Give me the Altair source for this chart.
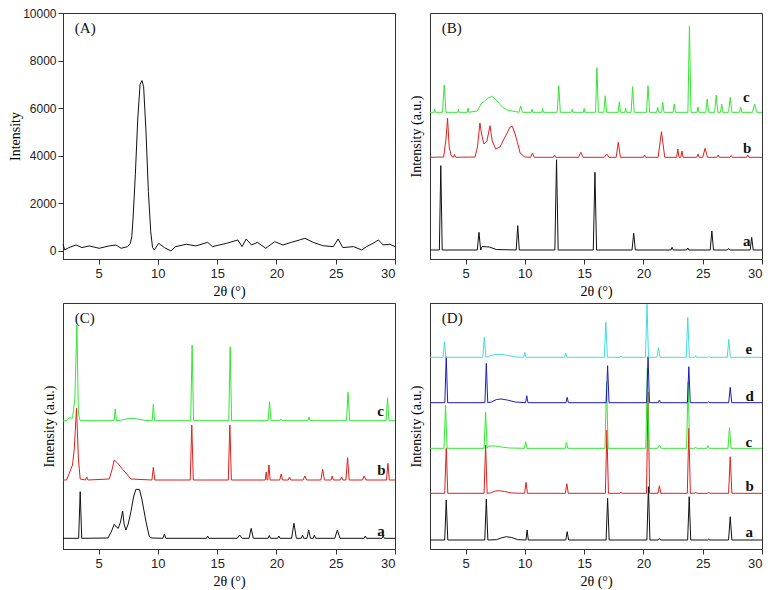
import altair as alt
import pandas as pd

# ---------------- Panel A (raw intensity) ----------------
A_x = [2.0, 2.15, 2.5, 3.1, 3.6, 4.2, 5.05, 5.9, 6.46, 6.9, 7.45, 7.68, 7.8, 7.9, 8.1, 8.3, 8.5, 8.66,
       8.8, 9.0, 9.2, 9.4, 9.55, 9.7, 10.07, 10.55, 11.1, 11.5, 12.4, 13.2, 14.2, 14.6, 15.8, 16.75,
       17.1, 17.45, 17.9, 18.4, 19.1, 19.85, 20.55, 21.25, 21.95, 22.4, 23.1, 23.9, 24.8, 25.2, 25.6,
       26.5, 27.2, 27.6, 28.15, 28.6, 29.0, 29.56, 30.0]
A_y = [280, 40, 140, 250, 140, 210, 110, 210, 250, 110, 180, 320, 600, 1300, 3200, 5500, 7000, 7160,
       6900, 5000, 2500, 800, 150, 40, 320, 140, 0, 180, 280, 210, 360, 180, 320, 460,
       180, 500, 250, 360, 110, 390, 250, 360, 460, 530, 360, 220, 180, 500, 140,
       180, 40, 180, 320, 460, 250, 280, 180]

# ---------------- Panels B-D (a.u.), peaks = (2theta, top, half-width) ----------------
B_a_base = 9
B_a_peaks = [(2.91, 93.3, 0.12), (6.13, 26.7, 0.14), (9.40, 33.3, 0.13), (12.67, 99.3, 0.14),
             (15.91, 86.7, 0.14), (19.18, 25.7, 0.14), (22.42, 11.7, 0.1), (23.74, 11.0, 0.1),
             (25.77, 28.0, 0.14), (27.18, 10.5, 0.1), (29.13, 21.7, 0.13)]
B_a_extra = [(6.4, 12.5), (7.0, 12.0), (7.6, 9.5)]

B_b_base = 101.7
B_b_peaks = [(4.07, 104.5, 0.1), (10.64, 106.0, 0.15), (12.5, 104.0, 0.1), (14.72, 106.7, 0.2),
             (16.9, 105.0, 0.2), (17.88, 116.7, 0.18), (20.1, 104.0, 0.1), (21.52, 127.3, 0.28),
             (22.9, 110.0, 0.1), (23.25, 108.0, 0.1), (24.6, 105.0, 0.1), (25.2, 110.7, 0.2),
             (26.3, 104.0, 0.1), (27.4, 103.5, 0.1), (28.8, 104.0, 0.1)]
B_b_extra = [(3.15, 102), (3.35, 120), (3.48, 140.7), (3.62, 112), (3.8, 103),
             (5.8, 102), (6.0, 112), (6.21, 136), (6.35, 125), (6.55, 115), (6.8, 118), (7.06, 133.3),
             (7.25, 118), (7.54, 110), (7.9, 112), (8.38, 123.3), (8.75, 132), (8.95, 132.7), (9.2, 124),
             (9.37, 116.7), (9.6, 106), (10.0, 102)]

B_c_base = 146.7
B_c_peaks = [(2.4, 150.0, 0.06), (3.2, 174.0, 0.15), (4.4, 150.0, 0.06), (5.2, 151.0, 0.06),
             (9.65, 153.0, 0.15), (10.6, 150.0, 0.06), (11.5, 150.5, 0.06), (12.86, 173.3, 0.13),
             (14.0, 150.0, 0.06), (15.0, 150.5, 0.06), (16.08, 191.3, 0.12), (16.78, 163.3, 0.12),
             (17.97, 157.3, 0.1), (18.5, 151.0, 0.06), (19.09, 172.3, 0.13), (20.39, 173.3, 0.13),
             (21.2, 152.0, 0.08), (21.63, 156.7, 0.1), (22.6, 155.0, 0.1), (23.88, 232.7, 0.13),
             (24.6, 152.0, 0.08), (25.38, 160.0, 0.12), (26.14, 164.0, 0.13), (26.6, 155.0, 0.1),
             (27.32, 161.7, 0.14), (28.2, 152.0, 0.1), (29.38, 155.0, 0.18)]
B_c_extra = [(6.0, 148), (6.3, 155), (6.6, 158), (6.9, 161), (7.2, 162.7), (7.5, 160), (7.8, 156),
             (8.1, 152), (8.5, 149)]

C_a_base = 10.7
C_a_peaks = [(3.45, 57.3, 0.13), (10.55, 15.0, 0.12), (14.2, 13.0, 0.1), (16.9, 14.0, 0.2),
             (17.87, 20.7, 0.18), (19.4, 13.5, 0.1), (20.2, 13.0, 0.1), (21.48, 25.7, 0.2),
             (22.2, 14.0, 0.1), (22.72, 19.0, 0.15), (23.2, 14.0, 0.1), (25.14, 19.0, 0.22),
             (27.5, 13.0, 0.1), (29.0, 13.0, 0.1)]
C_a_extra = [(5.8, 11), (6.1, 18), (6.32, 24.7), (6.5, 22), (6.66, 20.7), (6.85, 27), (7.03, 38),
             (7.15, 25), (7.3, 19), (7.5, 25), (7.73, 37.3), (7.95, 52), (8.15, 59.7), (8.45, 59.5),
             (8.65, 50), (9.0, 27.3), (9.28, 12.3), (9.5, 11)]

C_b_base = 69
C_b_peaks = [(4.0, 72.0, 0.1), (9.62, 81.7, 0.12), (12.86, 124.0, 0.13), (16.07, 124.0, 0.13),
             (19.14, 77.0, 0.08), (19.37, 84.0, 0.1), (20.4, 75.0, 0.12), (21.1, 72.0, 0.1),
             (22.4, 73.0, 0.15), (23.9, 79.7, 0.15), (24.7, 73.0, 0.1), (25.5, 72.0, 0.1),
             (26.0, 91.3, 0.14), (27.4, 73.0, 0.15), (29.4, 85.7, 0.12)]
C_b_extra = [(2.3, 69), (2.5, 75), (2.8, 84), (2.95, 100), (3.14, 140.7), (3.3, 90), (3.45, 70),
             (5.9, 70), (6.15, 80), (6.32, 89), (6.6, 86), (7.0, 80), (7.3, 76), (7.73, 70)]

C_c_base = 128.3
C_c_peaks = [(6.41, 140.0, 0.1), (9.62, 144.7, 0.1), (12.89, 204.0, 0.12), (16.1, 202.3, 0.12),
             (19.42, 147.3, 0.12), (20.4, 130.0, 0.1), (22.75, 132.0, 0.1), (26.04, 156.7, 0.13),
             (29.37, 151.3, 0.12)]
C_c_extra = [(2.3, 128.3), (2.5, 131), (2.8, 131), (3.0, 150), (3.17, 224), (3.3, 135), (3.45, 128.3),
             (7.0, 129), (7.5, 130.5), (8.0, 130.7), (8.5, 129.5), (9.0, 128.5)]

D_a_base = 9
D_a_peaks = [(3.37, 49.0, 0.13), (6.75, 50.0, 0.13), (10.19, 19.0, 0.1), (13.57, 17.3, 0.12),
             (16.98, 50.7, 0.13), (20.42, 62.3, 0.13), (21.35, 10.5, 0.1), (23.86, 52.3, 0.13),
             (25.5, 9.8, 0.1), (27.32, 32.3, 0.14)]
D_a_extra = [(7.6, 9.3), (8.0, 11), (8.44, 12.3), (8.9, 11.5), (9.4, 9.3)]

D_b_base = 55.7
D_b_peaks = [(3.37, 100.7, 0.13), (6.69, 104.0, 0.13), (10.1, 66.7, 0.12), (13.54, 65.3, 0.12),
             (16.92, 119.0, 0.13), (18.1, 57.0, 0.08), (20.39, 157.0, 0.13), (21.35, 63.3, 0.12),
             (23.83, 120.7, 0.13), (24.4, 57.0, 0.08), (25.5, 57.0, 0.1), (27.32, 92.3, 0.14)]
D_b_extra = [(7.1, 56), (7.5, 58), (7.8, 58.3), (8.3, 57.5), (8.9, 56)]

D_c_base = 100.7
D_c_peaks = [(3.31, 144.0, 0.13), (6.69, 136.7, 0.13), (10.07, 107.3, 0.1), (13.51, 106.7, 0.1),
             (16.89, 167.3, 0.13), (20.33, 180.7, 0.13), (21.35, 104.0, 0.15), (23.77, 167.3, 0.13),
             (24.4, 102.0, 0.08), (25.44, 103.3, 0.1), (27.26, 121.3, 0.13)]
D_c_extra = [(6.95, 103), (7.5, 103), (8.0, 102), (8.7, 101)]

D_d_base = 146.3
D_d_peaks = [(3.37, 192.3, 0.12), (6.75, 185.7, 0.12), (10.16, 153.3, 0.1), (13.57, 151.7, 0.1),
             (16.98, 183.3, 0.12), (20.39, 192.3, 0.12), (21.35, 149.0, 0.1), (23.83, 182.3, 0.12),
             (25.5, 147.0, 0.1), (27.32, 161.7, 0.13)]
D_d_extra = [(7.2, 147), (7.6, 149.5), (8.0, 150), (8.5, 149), (9.2, 147)]

D_e_base = 191.7
D_e_peaks = [(3.22, 207.3, 0.12), (6.58, 211.7, 0.13), (10.0, 196.7, 0.1), (13.45, 195.7, 0.1),
             (16.83, 226.7, 0.13), (18.1, 193.0, 0.08), (20.3, 244.7, 0.13), (21.27, 201.3, 0.13),
             (23.74, 231.7, 0.13), (24.4, 193.5, 0.08), (25.5, 192.5, 0.1), (27.2, 209.7, 0.13)]
D_e_extra = [(7.0, 193), (7.5, 194.5), (8.0, 194.7), (8.6, 193.5), (9.2, 192)]

BLACK, RED, GREEN, BLUE, CYAN = "#111111", "#e0201c", "#33e833", "#1c1cc0", "#44dcdc"

x_tick_values = [5, 10, 15, 20, 25, 30]
a_tick_values = [0, 1000, 2000, 3000, 4000, 5000, 6000, 7000, 8000, 9000, 10000]

curve_labels = {
    "B": [("a", 28.4, 18.3), ("b", 28.4, 110.7), ("c", 28.4, 162.0)],
    "C": [("a", 28.5, 18.3), ("b", 28.5, 79.0), ("c", 28.5, 138.0)],
    "D": [("a", 28.6, 17.3), ("b", 28.6, 63.0), ("c", 28.6, 107.3), ("d", 28.6, 153.0), ("e", 28.6, 199.7)],
}


def build(series, color, base, peaks, extra):
    pts = [(2.0, base), (30.0, base)] + list(extra)
    for c, top, hw in peaks:
        pts += [(c - hw, base), (c, top), (c + hw, base)]
    pts.sort(key=lambda p: p[0])
    return pd.DataFrame({"x": [p[0] for p in pts], "y": [p[1] for p in pts],
                         "series": series, "color": color, "i": range(len(pts))})


SERIF = "Liberation Serif"
SANS = "Liberation Sans"
W, H = 332, 246


def x_axis():
    return alt.Axis(values=x_tick_values, format="d",
                    labelOverlap=False,
                    tickSize=5, title="2θ (°)", titleFont=SERIF, titleFontSize=14,
                    titleFontWeight="normal", titlePadding=4, labelFont=SANS, labelFontSize=13,
                    labelColor="#222", domainColor="#333", tickColor="#333", grid=False,
                    labelPadding=3)


XS = alt.Scale(domain=[2, 30], nice=False, zero=False)
YS = alt.Scale(domain=[0, 246], nice=False, zero=False)


def au_panel(letter, frames):
    df = pd.concat(frames, ignore_index=True)
    lines = alt.Chart(df).mark_line(strokeWidth=1, clip=True).encode(
        x=alt.X("x:Q", scale=XS, axis=x_axis()),
        y=alt.Y("y:Q", scale=YS,
                axis=alt.Axis(title="Intensity (a.u.)", titleFont=SERIF, titleFontSize=14,
                              titleFontWeight="normal", labels=False, ticks=False, grid=False,
                              domainColor="#333", titlePadding=7)),
        color=alt.Color("color:N", scale=None),
        detail="series:N",
        order="i:Q",
    )
    lab = pd.DataFrame(curve_labels[letter], columns=["t", "x", "y"])
    labels = alt.Chart(lab).mark_text(font=SERIF, fontSize=15, fontWeight="bold",
                                      align="left", baseline="middle", color="#111").encode(
        x="x:Q", y="y:Q", text="t:N")
    ttl = pd.DataFrame({"t": [f"({letter})"], "x": [3.0], "y": [231.0]})
    tag = alt.Chart(ttl).mark_text(font=SERIF, fontSize=15, align="left", baseline="middle",
                                   color="#111").encode(x="x:Q", y="y:Q", text="t:N")
    return alt.layer(lines, labels, tag).properties(width=W, height=H)


# Panel A
YA = alt.Scale(domain=[-340, 10000], nice=False, zero=False)
dfA = pd.DataFrame({"x": A_x, "y": A_y, "i": range(len(A_x))})
lineA = alt.Chart(dfA).mark_line(strokeWidth=1, color=BLACK).encode(
    x=alt.X("x:Q", scale=XS, axis=x_axis()),
    y=alt.Y("y:Q", scale=YA,
            axis=alt.Axis(values=a_tick_values, format="d",
                          labelExpr="datum.value % 2000 === 0 ? datum.label : ''",
                          labelOverlap=False,
                          tickSize={"condition": {"test": "datum.value % 2000 === 0", "value": 5}, "value": 3},
                          title="Intensity", titleFont=SERIF, titleFontSize=14, titleFontWeight="normal",
                          labelFont=SANS, labelFontSize=12, labelColor="#222", domainColor="#333",
                          tickColor="#333", grid=False, labelPadding=2, titlePadding=0)),
    order="i:Q",
)
tagA = alt.Chart(pd.DataFrame({"t": ["(A)"], "x": [3.0], "y": [9360]})).mark_text(
    font=SERIF, fontSize=15, align="left", baseline="middle", color="#111").encode(
    x="x:Q", y="y:Q", text="t:N")
panelA = alt.layer(lineA, tagA).properties(width=W, height=H)

panelB = au_panel("B", [
    build("a", BLACK, B_a_base, B_a_peaks, B_a_extra),
    build("b", RED, B_b_base, B_b_peaks, B_b_extra),
    build("c", GREEN, B_c_base, B_c_peaks, B_c_extra),
])
panelC = au_panel("C", [
    build("a", BLACK, C_a_base, C_a_peaks, C_a_extra),
    build("b", RED, C_b_base, C_b_peaks, C_b_extra),
    build("c", GREEN, C_c_base, C_c_peaks, C_c_extra),
])
panelD = au_panel("D", [
    build("a", BLACK, D_a_base, D_a_peaks, D_a_extra),
    build("b", RED, D_b_base, D_b_peaks, D_b_extra),
    build("c", GREEN, D_c_base, D_c_peaks, D_c_extra),
    build("d", BLUE, D_d_base, D_d_peaks, D_d_extra),
    build("e", CYAN, D_e_base, D_e_peaks, D_e_extra),
])

chart = alt.concat(panelA, panelB, panelC, panelD, columns=2,
                   spacing={"row": 44, "column": 35}, bounds="flush").properties(
    padding={"left": 0, "top": -2, "right": 0, "bottom": 0}, background="white"
).configure_view(stroke="#333", strokeWidth=1)

chart.save("out.html", embed_options={"renderer": "svg", "actions": False})
